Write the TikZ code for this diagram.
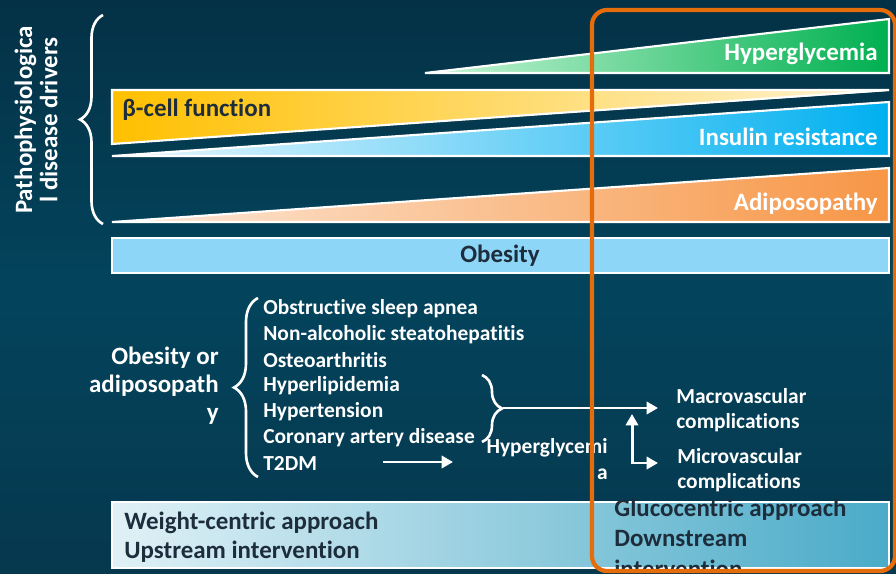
\documentclass[tikz,border=0pt]{standalone}
\usepackage{fontspec}
\setmainfont{Carlito}[Ligatures=NoCommon]
\usetikzlibrary{decorations.pathreplacing,arrows.meta}

\definecolor{bgtop}{RGB}{4,49,70}
\definecolor{bgmid}{RGB}{3,68,92}
\definecolor{bgbot}{RGB}{6,56,78}
\definecolor{darktext}{RGB}{30,45,60}
\definecolor{hgreen}{RGB}{0,176,80}
\definecolor{hgreenpale}{RGB}{200,246,214}
\definecolor{byellow}{RGB}{255,192,0}
\definecolor{byellowpale}{RGB}{255,244,214}
\definecolor{iblue}{RGB}{0,176,240}
\definecolor{ibluepale}{RGB}{236,248,254}
\definecolor{aorange}{RGB}{247,150,70}
\definecolor{aorangepale}{RGB}{253,233,217}
\definecolor{obblue}{RGB}{142,214,248}
\definecolor{boxpale}{RGB}{224,241,246}
\definecolor{boxteal}{RGB}{74,171,200}
\definecolor{frameorange}{RGB}{228,108,10}

\begin{document}
\begin{tikzpicture}[x=0.02cm,y=-0.02cm,
    wedge/.style={draw=white,line width=1.2pt},
    head/.style={font=\bfseries\fontsize{14.2}{17}\selectfont,inner sep=0pt},
    item/.style={font=\bfseries\fontsize{12.2}{14.6}\selectfont,text=white,inner sep=0pt,anchor=west},
    side/.style={font=\bfseries\fontsize{12.2}{14.6}\selectfont,text=white,inner sep=0pt},
    bigbox/.style={font=\bfseries\fontsize{14.2}{16.5}\selectfont,text=darktext,inner sep=0pt,anchor=west,align=left},
    curly/.style={decorate,draw=white,line width=1.5pt},
    arr/.style={-{Triangle[length=6.5pt,width=7pt]},white,line width=1.7pt}]

  \useasboundingbox (0,0) rectangle (896,574);
  \shade[top color=bgtop,bottom color=bgbot,middle color=bgmid] (0,0) rectangle (896,574);

  % disease drivers
  \shade[left color=hgreenpale,right color=hgreen] (425,73) -- (889,19) -- (889,73) -- cycle;
  \draw[wedge] (425,73) -- (889,19) -- (889,73) -- cycle;
  \shade[left color=byellow,right color=byellowpale] (112,90) -- (889,90) -- (889,91) -- (112,144) -- cycle;
  \draw[wedge] (112,90) -- (889,90) -- (112,144) -- cycle;
  \shade[left color=ibluepale,right color=iblue] (112,156) -- (889,102) -- (889,156) -- cycle;
  \draw[wedge] (112,156) -- (889,102) -- (889,156) -- cycle;
  \shade[left color=aorangepale,right color=aorange] (112,222) -- (889,168) -- (889,222) -- cycle;
  \draw[wedge] (112,222) -- (889,168) -- (889,222) -- cycle;
  \draw[wedge,fill=obblue] (112,238) rectangle (889,273);

  \node[head,text=white,anchor=east] (hyper) at (878,54) {Hyperglycemia};
  \node[head,text=darktext,anchor=west] (beta) at (122,110) {β-cell function};
  \node[head,text=white,anchor=east] (insulin) at (878,137) {Insulin resistance};
  \node[head,text=white,anchor=east] (adipo) at (878,204) {Adiposopathy};
  \node[head,text=darktext] (obesity) at (500,256) {Obesity};

  \draw[curly,decoration={brace,amplitude=0.46cm}] (103,224) -- (103,15);
  \node[font=\bfseries\fontsize{14.2}{14.4}\selectfont,text=white,rotate=90,align=center] (drivers) at (36,120) {Pathophysiologica\\l disease drivers};

  % comorbidities
  \node[side,align=right,anchor=east,font=\bfseries\fontsize{14.2}{15.9}\selectfont] (obad) at (219,386) {Obesity or\\adiposopath\\y};
  \draw[curly,decoration={brace,amplitude=0.48cm}] (258,477) -- (258,298);
  \foreach \t [count=\i] in {Obstructive sleep apnea,Non-alcoholic steatohepatitis,Osteoarthritis,Hyperlipidemia,Hypertension,Coronary artery disease,T2DM}
    \node[item] (item\i) at (263,{309+25.7*(\i-1)}) {\t};

  \draw[curly,decoration={brace,amplitude=0.4cm}] (482,375) -- (482,442);
  \coordinate (tip) at (503,408);
  \node[side,align=right,anchor=east] (hypergly) at (608,459) {Hyperglycemi\\a};
  \node[side,align=left,anchor=west] (macro) at (676,410) {Macrovascular\\complications};
  \node[side,align=left,anchor=west] (micro) at (677,470) {Microvascular\\complications};

  \coordinate (t2a) at (383,462);
  \coordinate (t2b) at (453,462);
  \coordinate (up) at (632,414);
  \coordinate (corner) at (632,463);
  \draw[arr] (t2a) -- (t2b);
  \draw[arr,shorten >=0.36cm] (tip) -- (tip -| macro.west);
  \draw[arr,{Triangle[length=6.5pt,width=7pt]}-{Triangle[length=6.5pt,width=7pt]}] (up) |- ([xshift=-0.38cm]micro.west |- corner);

  % approaches
  \shade[left color=boxpale,right color=boxteal] (112,502) rectangle (889,568);
  \draw[wedge] (112,502) rectangle (889,568);
  \node[bigbox] (weight) at (124,537) {Weight-centric approach\\Upstream intervention};
  \node[bigbox,font=\bfseries\fontsize{14.2}{17.3}\selectfont] (gluco) at (614,538) {Glucocentric approach\\Downstream\\intervention};

  \draw[frameorange,line width=2.4pt,rounded corners=0.3cm] (592,10) rectangle (895,571);
\end{tikzpicture}
\end{document}
